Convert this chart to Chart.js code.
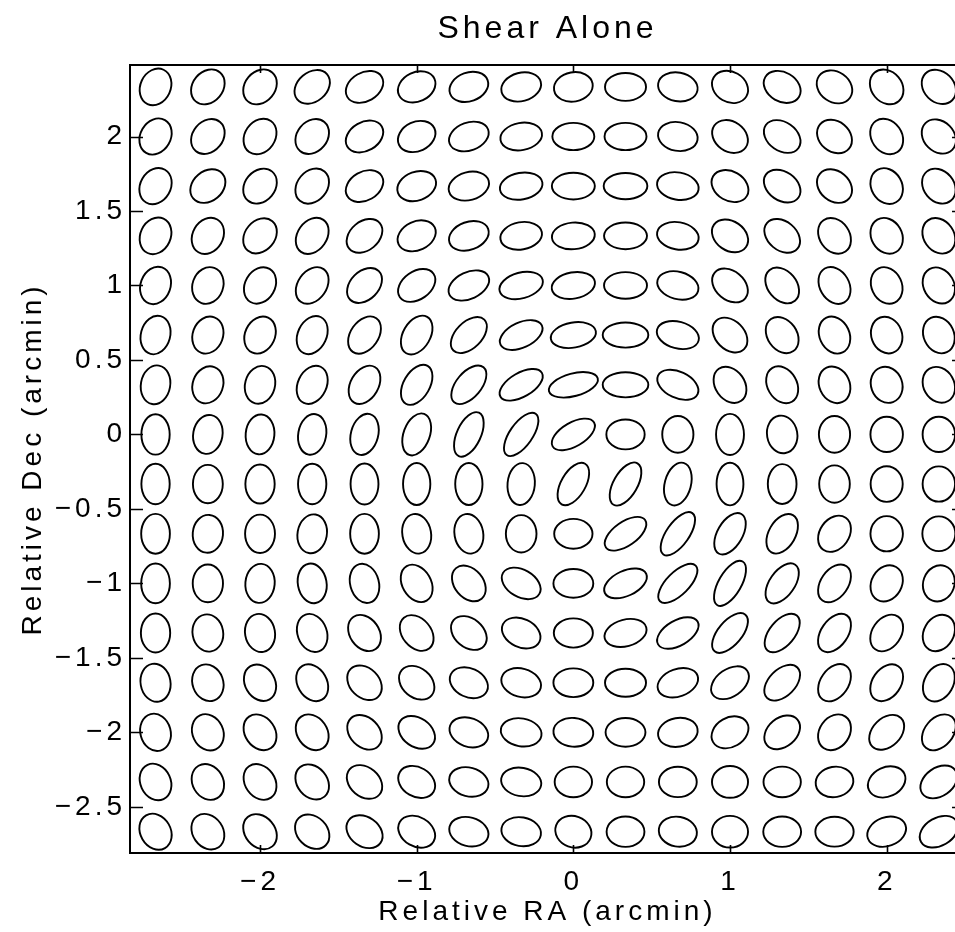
<!DOCTYPE html>
<html>
<head>
<meta charset="utf-8">
<title>Shear Alone</title>
<script src="https://cdn.jsdelivr.net/npm/chart.js@4.4.1/dist/chart.umd.min.js"></script>
<style>
  html, body { margin: 0; padding: 0; background: #ffffff; overflow: hidden; }
  #wrap { width: 975px; height: 932px; }
</style>
</head>
<body>
<div id="wrap"><canvas id="shear" width="975" height="932"></canvas></div>
<script>
// Grid of source positions (arcmin)
const raGrid  = [-2.667, -2.333, -2, -1.667, -1.333, -1, -0.667, -0.333, 0, 0.333, 0.667, 1, 1.333, 1.667, 2, 2.333];
const decGrid = [2.333, 2, 1.667, 1.333, 1, 0.667, 0.333, 0, -0.333, -0.667, -1, -1.333, -1.667, -2, -2.333, -2.667];

// Axis tick values
const xTicks = [-2, -1, 0, 1, 2];
const yTicks = [-2.5, -2, -1.5, -1, -0.5, 0, 0.5, 1, 1.5, 2];

// Position angle of each sheared image (degrees, counter-clockwise from +RA), one row per Dec
const positionAngle = [
  [ 65,  50,  50,  40,  30,  25,  20,  15,  10,   0, -10, -30, -30, -35, -50, -45],
  [ 60,  50,  55,  50,  30,  25,  20,  10,   0,   0, -10, -35, -35, -40, -55, -45],
  [ 60,  40,  50,  50,  30,  20,  15,  10,   0,   0, -10, -30, -35, -40, -60, -50],
  [ 65,  60,  50,  55,  40,  25,  20,  10,   5,   0, -10, -35, -40, -55, -60, -55],
  [ 70,  70,  60,  55,  45,  35,  25,  15,  10,   0, -15, -40, -50, -60, -65, -60],
  [ 75,  70,  65,  65,  55,  60,  45,  25,  10,   0, -15, -45, -55, -65, -70, -65],
  [ 80,  70,  75,  65,  60,  60,  50,  30,  15,   0, -25, -55, -60, -65, -70, -60],
  [ 90,  80,  85,  80,  75,  70,  65,  55,  30,   0,  90,  90, -80,  90,  90,  90],
  [ 90,  90,  90,  90,  90,  90,  90,  85,  60,  60,  75,  90,  90,  90,  90,  90],
  [ 90,  85,  90,  80,  90, -80, -80,  90,   0,  35,  55,  60,  60,  55,  90,  90],
  [ 90,  90,  85, -80, -75, -60, -50, -30,   0,  25,  45,  60,  55,  55,  60,  70],
  [ 90, -80, -80, -70, -55, -50, -40, -25,   0,  15,  30,  50,  50,  55,  55,  60],
  [-80, -70, -60, -60, -45, -40, -25, -15,   0,   0,  20,  35,  45,  55,  55,  60],
  [-75, -65, -55, -55, -45, -35, -20, -10,  -5,   0,  10,  30,  40,  55,  45,  50],
  [-65, -60, -55, -50, -40, -30, -15, -10,   0,   0,   0,   0,   0,  10,  25,  35],
  [-60, -55, -50, -45, -35, -30, -15, -10, -20,   0, -10,   0,   0,   0,  20,  30]
];

// Minor-to-major axis ratio of each sheared image, one row per Dec
const axisRatio = [
  [0.80, 0.80, 0.80, 0.75, 0.72, 0.75, 0.72, 0.70, 0.75, 0.68, 0.72, 0.80, 0.75, 0.80, 0.82, 0.80],
  [0.80, 0.80, 0.80, 0.80, 0.72, 0.75, 0.68, 0.65, 0.65, 0.65, 0.72, 0.78, 0.72, 0.80, 0.80, 0.80],
  [0.80, 0.78, 0.80, 0.78, 0.72, 0.72, 0.68, 0.62, 0.62, 0.60, 0.65, 0.75, 0.72, 0.78, 0.82, 0.80],
  [0.80, 0.80, 0.78, 0.75, 0.72, 0.72, 0.68, 0.65, 0.62, 0.62, 0.65, 0.75, 0.72, 0.78, 0.82, 0.80],
  [0.78, 0.82, 0.78, 0.72, 0.70, 0.68, 0.62, 0.58, 0.60, 0.62, 0.65, 0.72, 0.72, 0.75, 0.80, 0.80],
  [0.75, 0.80, 0.78, 0.72, 0.68, 0.65, 0.60, 0.55, 0.55, 0.55, 0.62, 0.72, 0.75, 0.78, 0.82, 0.80],
  [0.75, 0.80, 0.78, 0.72, 0.68, 0.60, 0.55, 0.50, 0.45, 0.55, 0.60, 0.75, 0.75, 0.80, 0.85, 0.82],
  [0.70, 0.75, 0.72, 0.68, 0.65, 0.60, 0.50, 0.45, 0.50, 0.78, 0.85, 0.68, 0.80, 0.85, 0.92, 0.92],
  [0.70, 0.78, 0.75, 0.70, 0.68, 0.65, 0.65, 0.65, 0.52, 0.50, 0.60, 0.63, 0.72, 0.82, 0.90, 0.92],
  [0.72, 0.80, 0.78, 0.75, 0.72, 0.72, 0.72, 0.82, 0.78, 0.50, 0.45, 0.55, 0.62, 0.75, 0.92, 0.95],
  [0.72, 0.80, 0.75, 0.72, 0.72, 0.72, 0.72, 0.65, 0.72, 0.55, 0.45, 0.45, 0.55, 0.65, 0.80, 0.85],
  [0.75, 0.82, 0.78, 0.75, 0.75, 0.72, 0.72, 0.70, 0.75, 0.62, 0.55, 0.50, 0.55, 0.62, 0.72, 0.78],
  [0.78, 0.82, 0.78, 0.75, 0.75, 0.75, 0.72, 0.70, 0.72, 0.68, 0.65, 0.65, 0.62, 0.68, 0.70, 0.72],
  [0.80, 0.82, 0.78, 0.78, 0.75, 0.72, 0.72, 0.68, 0.72, 0.72, 0.72, 0.75, 0.72, 0.78, 0.70, 0.70],
  [0.80, 0.82, 0.78, 0.78, 0.75, 0.75, 0.72, 0.70, 0.82, 0.82, 0.80, 0.88, 0.82, 0.80, 0.75, 0.70],
  [0.80, 0.80, 0.78, 0.78, 0.75, 0.75, 0.72, 0.72, 0.85, 0.80, 0.78, 0.88, 0.80, 0.78, 0.72, 0.68]
];

// Unsheared source radius, in RA units
const GALAXY_RADIUS = 0.108;
const FONT = "'Liberation Sans', Arial, Helvetica, sans-serif";

const galaxies = [];
decGrid.forEach((dec, r) => {
  raGrid.forEach((ra, c) => {
    galaxies.push({ x: ra, y: dec, angle: positionAngle[r][c], ratio: axisRatio[r][c] });
  });
});

const fmt = v => (v < 0 ? '\u2212' : '') + String(Math.abs(v));

// Wide-set lettering for every label
const lettering = {
  id: 'lettering',
  beforeDraw(chart) { chart.ctx.letterSpacing = '4px'; }
};

// Each source drawn as an area-preserving ellipse at its scaled position
const ellipses = {
  id: 'ellipses',
  afterDatasetsDraw(chart) {
    const ctx = chart.ctx;
    const xs = chart.scales.x;
    const r0 = Math.abs(xs.getPixelForValue(GALAXY_RADIUS) - xs.getPixelForValue(0));
    const meta = chart.getDatasetMeta(0);
    const data = chart.data.datasets[0].data;
    ctx.save();
    ctx.strokeStyle = '#000000';
    ctx.lineWidth = 1.9;
    meta.data.forEach((el, i) => {
      const g = data[i];
      const a = r0 / Math.sqrt(g.ratio);
      const b = r0 * Math.sqrt(g.ratio);
      ctx.beginPath();
      ctx.ellipse(el.x, el.y, a, b, -g.angle * Math.PI / 180, 0, 2 * Math.PI);
      ctx.stroke();
    });
    ctx.restore();
  }
};

// Boxed axes with inward tick marks on all four sides
const frame = {
  id: 'frame',
  afterDraw(chart) {
    const { ctx, chartArea: { left, right, top, bottom }, scales: { x, y } } = chart;
    ctx.save();
    ctx.strokeStyle = '#000000';
    ctx.lineWidth = 2;
    ctx.strokeRect(left, top, right - left, bottom - top);
    ctx.lineWidth = 1.6;
    ctx.beginPath();
    x.ticks.forEach(t => {
      const px = Math.round(x.getPixelForValue(t.value)) + 0.5;
      ctx.moveTo(px, bottom); ctx.lineTo(px, bottom - 8);
      ctx.moveTo(px, top); ctx.lineTo(px, top + 8);
    });
    y.ticks.forEach(t => {
      const py = Math.round(y.getPixelForValue(t.value)) + 0.5;
      ctx.moveTo(left, py); ctx.lineTo(left + 13, py);
      ctx.moveTo(right, py); ctx.lineTo(right - 13, py);
    });
    ctx.stroke();
    ctx.restore();
  }
};

new Chart(document.getElementById('shear'), {
  type: 'scatter',
  data: {
    datasets: [{
      data: galaxies,
      pointRadius: 0,
      pointHoverRadius: 0,
      showLine: false
    }]
  },
  options: {
    responsive: false,
    animation: false,
    events: [],
    layout: { padding: { left: 0, right: 10, top: 0, bottom: 0 } },
    plugins: {
      legend: { display: false },
      tooltip: { enabled: false },
      title: {
        display: true,
        fullSize: false,
        text: 'Shear Alone',
        color: '#000000',
        font: { family: FONT, size: 32, weight: 'normal', lineHeight: 1.2 },
        padding: { top: 10, bottom: 16.6 }
      }
    },
    scales: {
      x: {
        type: 'linear',
        min: -2.83,
        max: 2.5,
        afterBuildTicks: s => { s.ticks = xTicks.map(v => ({ value: v })); },
        afterFit: s => { s.height = 79; },
        grid: { display: false, drawTicks: false },
        border: { display: false },
        ticks: {
          autoSkip: false, maxRotation: 0, padding: 12, color: '#000000',
          font: { family: FONT, size: 28 },
          callback: v => fmt(v)
        },
        title: {
          display: true, text: 'Relative RA (arcmin)', color: '#000000',
          font: { family: FONT, size: 28, lineHeight: 1.2 },
          padding: { top: 0, bottom: 3 }
        }
      },
      y: {
        type: 'linear',
        min: -2.81,
        max: 2.48,
        afterBuildTicks: s => { s.ticks = yTicks.map(v => ({ value: v })); },
        afterFit: s => { s.width = 130; },
        grid: { display: false, drawTicks: false },
        border: { display: false },
        ticks: {
          autoSkip: false, padding: 4, color: '#000000',
          font: { family: FONT, size: 28 },
          callback: v => fmt(v)
        },
        title: {
          display: true, text: 'Relative Dec (arcmin)', color: '#000000',
          font: { family: FONT, size: 28, lineHeight: 1.2 },
          padding: { top: 16, bottom: 0 }
        }
      }
    }
  },
  plugins: [lettering, ellipses, frame]
});
</script>
</body>
</html>
